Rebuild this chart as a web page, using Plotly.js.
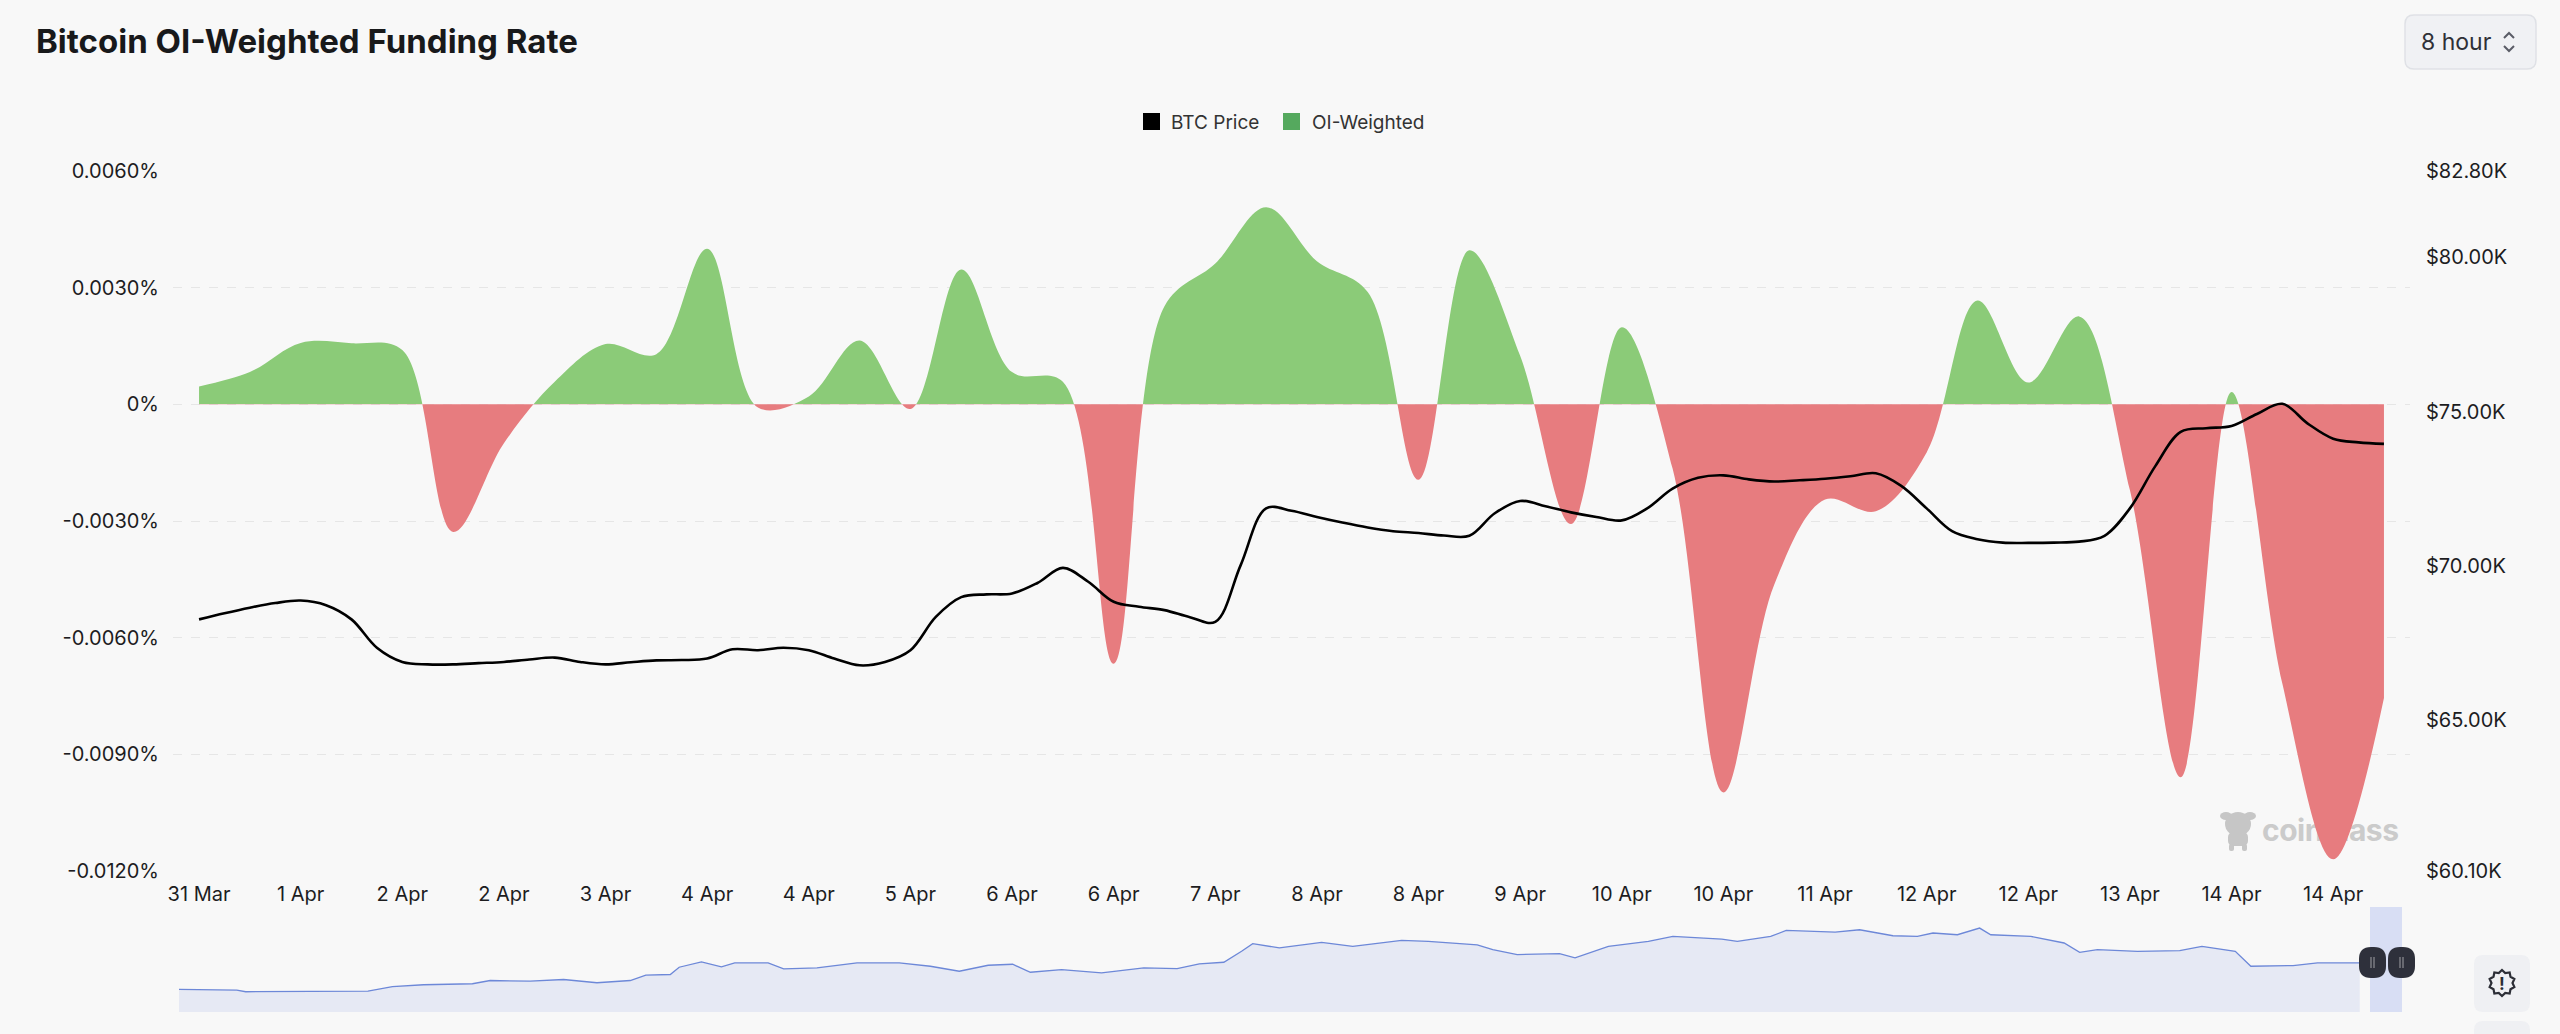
<!DOCTYPE html>
<html>
<head>
<meta charset="utf-8">
<script src="https://cdn.plot.ly/plotly-3.0.1.min.js"></script>
<style>
  html, body { margin: 0; padding: 0; background: #f8f8f8; }
  #chart { width: 2560px; height: 1034px; }
</style>
</head>
<body>
<div id="chart"></div>
<script>
// 8-hour funding settlements
var fundingTimes = [
  '2025-03-31 16:00',
  '2025-04-01 00:00', '2025-04-01 08:00', '2025-04-01 16:00',
  '2025-04-02 00:00', '2025-04-02 08:00', '2025-04-02 16:00',
  '2025-04-03 00:00', '2025-04-03 08:00', '2025-04-03 16:00',
  '2025-04-04 00:00', '2025-04-04 08:00', '2025-04-04 16:00',
  '2025-04-05 00:00', '2025-04-05 08:00', '2025-04-05 16:00',
  '2025-04-06 00:00', '2025-04-06 08:00', '2025-04-06 16:00',
  '2025-04-07 00:00', '2025-04-07 08:00', '2025-04-07 16:00',
  '2025-04-08 00:00', '2025-04-08 08:00', '2025-04-08 16:00',
  '2025-04-09 00:00', '2025-04-09 08:00', '2025-04-09 16:00',
  '2025-04-10 00:00', '2025-04-10 08:00', '2025-04-10 16:00',
  '2025-04-11 00:00', '2025-04-11 08:00', '2025-04-11 16:00',
  '2025-04-12 00:00', '2025-04-12 08:00', '2025-04-12 16:00',
  '2025-04-13 00:00', '2025-04-13 08:00', '2025-04-13 16:00',
  '2025-04-14 00:00', '2025-04-14 08:00', '2025-04-14 16:00',
  '2025-04-15 00:00'
];
// OI-weighted funding rate, in %
var fundingRate = [
  0.00046, 0.00083, 0.00158, 0.00157, 0.00140, -0.00328, -0.00100, 0.00058,
  0.00155, 0.00129, 0.00400, -0.00008, 0.00020, 0.00164, -0.00012, 0.00347,
  0.00083, 0.00058, -0.00667, 0.00252, 0.00362, 0.00507, 0.00368, 0.00289,
  -0.00194, 0.00396, 0.00125, -0.00308, 0.00198, -0.00165, -0.00998, -0.00464,
  -0.00245, -0.00275, -0.00124, 0.00267, 0.00056, 0.00226, -0.00220, -0.00959,
  0.00032, -0.00718, -0.01170, -0.00755
];

// BTC price every 4 hours, in $K
var priceTimes = [
  '2025-03-31 16:00', '2025-03-31 20:00',
  '2025-04-01 00:00', '2025-04-01 04:00', '2025-04-01 08:00', '2025-04-01 12:00', '2025-04-01 16:00', '2025-04-01 20:00',
  '2025-04-02 00:00', '2025-04-02 04:00', '2025-04-02 08:00', '2025-04-02 12:00', '2025-04-02 16:00', '2025-04-02 20:00',
  '2025-04-03 00:00', '2025-04-03 04:00', '2025-04-03 08:00', '2025-04-03 12:00', '2025-04-03 16:00', '2025-04-03 20:00',
  '2025-04-04 00:00', '2025-04-04 04:00', '2025-04-04 08:00', '2025-04-04 12:00', '2025-04-04 16:00', '2025-04-04 20:00',
  '2025-04-05 00:00', '2025-04-05 04:00', '2025-04-05 08:00', '2025-04-05 12:00', '2025-04-05 16:00', '2025-04-05 20:00',
  '2025-04-06 00:00', '2025-04-06 04:00', '2025-04-06 08:00', '2025-04-06 12:00', '2025-04-06 16:00', '2025-04-06 20:00',
  '2025-04-07 00:00', '2025-04-07 04:00', '2025-04-07 08:00', '2025-04-07 12:00', '2025-04-07 16:00', '2025-04-07 20:00',
  '2025-04-08 00:00', '2025-04-08 04:00', '2025-04-08 08:00', '2025-04-08 12:00', '2025-04-08 16:00', '2025-04-08 20:00',
  '2025-04-09 00:00', '2025-04-09 04:00', '2025-04-09 08:00', '2025-04-09 12:00', '2025-04-09 16:00', '2025-04-09 20:00',
  '2025-04-10 00:00', '2025-04-10 04:00', '2025-04-10 08:00', '2025-04-10 12:00', '2025-04-10 16:00', '2025-04-10 20:00',
  '2025-04-11 00:00', '2025-04-11 04:00', '2025-04-11 08:00', '2025-04-11 12:00', '2025-04-11 16:00', '2025-04-11 20:00',
  '2025-04-12 00:00', '2025-04-12 04:00', '2025-04-12 08:00', '2025-04-12 12:00', '2025-04-12 16:00', '2025-04-12 20:00',
  '2025-04-13 00:00', '2025-04-13 04:00', '2025-04-13 08:00', '2025-04-13 12:00', '2025-04-13 16:00', '2025-04-13 20:00',
  '2025-04-14 00:00', '2025-04-14 04:00', '2025-04-14 08:00', '2025-04-14 12:00', '2025-04-14 16:00', '2025-04-14 20:00',
  '2025-04-15 00:00'
];
var btcPrice = [
  68.26, 68.46,
  68.64, 68.79, 68.87, 68.72, 68.26, 67.34,
  66.88, 66.80, 66.80, 66.84, 66.88, 66.96,
  67.02, 66.88, 66.80, 66.87, 66.93, 66.94,
  66.99, 67.29, 67.26, 67.34, 67.26, 66.99,
  66.77, 66.88, 67.26, 68.34, 68.98, 69.07,
  69.10, 69.44, 69.93, 69.48, 68.83, 68.67,
  68.56, 68.33, 68.18, 70.02, 71.86, 71.78,
  71.58, 71.40, 71.24, 71.12, 71.06, 70.98,
  70.97, 71.70, 72.10, 71.93, 71.73, 71.58,
  71.47, 71.86, 72.50, 72.85, 72.93, 72.80,
  72.73, 72.77, 72.82, 72.90, 73.00, 72.59,
  71.86, 71.12, 70.86, 70.75, 70.74, 70.75,
  70.78, 70.97, 71.86, 73.23, 74.34, 74.46,
  74.53, 74.92, 75.25, 74.61, 74.12, 74.00,
  73.95
];

var xTickVals = [
  '2025-03-31 16:00', '2025-04-01 08:00', '2025-04-02 00:00', '2025-04-02 16:00',
  '2025-04-03 08:00', '2025-04-04 00:00', '2025-04-04 16:00', '2025-04-05 08:00',
  '2025-04-06 00:00', '2025-04-06 16:00', '2025-04-07 08:00', '2025-04-08 00:00',
  '2025-04-08 16:00', '2025-04-09 08:00', '2025-04-10 00:00', '2025-04-10 16:00',
  '2025-04-11 08:00', '2025-04-12 00:00', '2025-04-12 16:00', '2025-04-13 08:00',
  '2025-04-14 00:00', '2025-04-14 16:00'
];
var xTickText = [
  '31 Mar', '1 Apr', '2 Apr', '2 Apr', '3 Apr', '4 Apr', '4 Apr', '5 Apr',
  '6 Apr', '6 Apr', '7 Apr', '8 Apr', '8 Apr', '9 Apr', '10 Apr', '10 Apr',
  '11 Apr', '12 Apr', '12 Apr', '13 Apr', '14 Apr', '14 Apr'
];
var rateTicks = [-0.012, -0.009, -0.006, -0.003, 0, 0.003, 0.006];
var rateTickText = ['-0.0120%', '-0.0090%', '-0.0060%', '-0.0030%', '0%', '0.0030%', '0.0060%'];
var priceTicks = [60.1, 65, 70, 75, 80, 82.8];
var priceTickText = ['$60.10K', '$65.00K', '$70.00K', '$75.00K', '$80.00K', '$82.80K'];

// long history price in the navigator strip (day offset, $K)
var sliderDay = [
  0, 26, 30, 67, 85, 96, 110, 132, 140, 158, 173, 188, 203, 210, 221, 225, 235, 244, 250, 265,
  272, 287, 305, 324, 338, 351, 364, 375, 383, 397, 415, 434, 449, 459, 470, 478, 483, 495, 514, 528,
  550, 562, 584, 591, 602, 621, 628, 643, 661, 672, 694, 701, 716, 723, 745, 756, 771, 782, 789, 800,
  810, 815, 833, 848, 855, 863, 881, 900, 910, 925, 932, 951, 962, 973, 981
];
var sliderPrice = [
  34.2, 33.1, 30.7, 31.2, 31.6, 38.3, 41.3, 42.8, 47.7, 46.7, 49.2, 44.3, 47.7, 55.7, 56.8, 67.8, 75.9, 68.4, 74.4, 74.4,
  65.4, 66.9, 74.4, 74.4, 69.3, 61.7, 70.8, 72.3, 60.2, 64.3, 59.3, 66.9, 65.8, 72.9, 75.3, 91.9, 103.5, 97.0, 105.4, 99.4,
  108.4, 106.9, 101.5, 94.4, 86.9, 88.4, 81.9, 99.4, 106.9, 114.5, 110.5, 106.9, 114.5, 123.5, 121.1, 124.5, 115.5, 114.5, 119.6, 117.0,
  127.1, 117.0, 114.5, 104.5, 90.4, 94.4, 91.9, 92.9, 99.4, 91.9, 69.3, 70.3, 74.4, 74.4, 74.4
];

var RED = '#e77c7f';
var GREEN = '#8bcb78';
var FONT = 'Inter, "Noto Sans", sans-serif';

// page geometry (pixels) -> paper coordinates, for the decorations
var W = 2560, H = 1034, ML = 173, MR = 150, MT = 171, MB = 22;
var PW = W - ML - MR, PH = H - MT - MB;
function px(x) { return (x - ML) / PW; }
function py(y) { return (H - MB - y) / PH; }
function roundRect(x0, y0, x1, y1, r) {
  return 'M' + px(x0 + r) + ',' + py(y0) + 'L' + px(x1 - r) + ',' + py(y0) +
    'Q' + px(x1) + ',' + py(y0) + ' ' + px(x1) + ',' + py(y0 + r) +
    'L' + px(x1) + ',' + py(y1 - r) +
    'Q' + px(x1) + ',' + py(y1) + ' ' + px(x1 - r) + ',' + py(y1) +
    'L' + px(x0 + r) + ',' + py(y1) +
    'Q' + px(x0) + ',' + py(y1) + ' ' + px(x0) + ',' + py(y1 - r) +
    'L' + px(x0) + ',' + py(y0 + r) +
    'Q' + px(x0) + ',' + py(y0) + ' ' + px(x0 + r) + ',' + py(y0) + 'Z';
}
function polyline(pts) {
  return pts.map(function (p, k) { return (k ? 'L' : 'M') + px(p[0]) + ',' + py(p[1]); }).join('');
}
function badge(cx, cy, ro, ri, n) {
  var pts = [];
  for (var k = 0; k < n * 2; k++) {
    var a = Math.PI * k / n - Math.PI / 2;
    var r = k % 2 ? ri : ro;
    pts.push([cx + r * Math.cos(a), cy + r * Math.sin(a)]);
  }
  return polyline(pts) + 'Z';
}

var zeroFrac = (0 - rateTicks[0]) / (rateTicks[rateTicks.length - 1] - rateTicks[0]);

var fundingTrace = {
  x: fundingTimes, y: fundingRate,
  type: 'scatter', mode: 'lines',
  line: {shape: 'spline', smoothing: 1, width: 0, color: GREEN},
  fill: 'tozeroy',
  fillgradient: {
    type: 'vertical',
    start: rateTicks[0], stop: rateTicks[rateTicks.length - 1],
    colorscale: [[0, RED], [zeroFrac, RED], [zeroFrac, GREEN], [1, GREEN]]
  },
  xaxis: 'x', yaxis: 'y',
  hoverinfo: 'skip', showlegend: false
};

var priceTrace = {
  x: priceTimes, y: btcPrice,
  type: 'scatter', mode: 'lines',
  line: {shape: 'spline', smoothing: 1, width: 2.6, color: '#000000'},
  xaxis: 'x', yaxis: 'y2',
  hoverinfo: 'skip', showlegend: false
};

var sliderTrace = {
  x: sliderDay, y: sliderPrice,
  type: 'scatter', mode: 'lines',
  line: {width: 1.3, color: '#6d88d8'},
  fill: 'tozeroy', fillcolor: '#e6e9f4',
  xaxis: 'x2', yaxis: 'y3',
  hoverinfo: 'skip', showlegend: false
};

var wmSvg = "<svg xmlns='http://www.w3.org/2000/svg' width='182' height='46' viewBox='0 0 182 46'>" +
  "<g fill='#c6c6c6'>" +
  "<ellipse cx='8' cy='10' rx='6' ry='4'/><ellipse cx='32' cy='10' rx='6' ry='4'/>" +
  "<ellipse cx='20' cy='18' rx='13' ry='12'/>" +
  "<rect x='10' y='26' width='20' height='14' rx='5'/>" +
  "<rect x='11' y='38' width='5' height='7' rx='2'/><rect x='24' y='38' width='5' height='7' rx='2'/>" +
  "</g>" +
  "<text x='44' y='35' font-family='Inter, Roboto, sans-serif' font-weight='700' font-size='30' letter-spacing='-0.5' fill='#cbcbcb'>coinglass</text>" +
  "</svg>";

var shapes = [
  // period selector button
  {type: 'path', xref: 'paper', yref: 'paper', path: roundRect(2405, 15, 2536, 69, 9),
    fillcolor: '#f0f1f4', line: {color: '#dfe1e6', width: 1.5}},
  {type: 'path', xref: 'paper', yref: 'paper', path: polyline([[2504, 38], [2509, 33], [2514, 38]]),
    line: {color: '#5a5c66', width: 2}},
  {type: 'path', xref: 'paper', yref: 'paper', path: polyline([[2504, 46], [2509, 51], [2514, 46]]),
    line: {color: '#5a5c66', width: 2}},
  // legend swatches
  {type: 'rect', xref: 'paper', yref: 'paper', x0: px(1143), x1: px(1160), y0: py(113), y1: py(130),
    fillcolor: '#000000', line: {width: 0}},
  {type: 'rect', xref: 'paper', yref: 'paper', x0: px(1283), x1: px(1300), y0: py(113), y1: py(130),
    fillcolor: '#55a95e', line: {width: 0}},
  // navigator selection and handles
  {type: 'rect', xref: 'paper', yref: 'paper', x0: px(2370), x1: px(2402), y0: py(1012), y1: py(907),
    fillcolor: 'rgba(190,200,240,0.55)', line: {width: 0}},
  {type: 'path', xref: 'paper', yref: 'paper', path: roundRect(2359, 947, 2386, 978, 12),
    fillcolor: '#2e303b', line: {width: 0}},
  {type: 'path', xref: 'paper', yref: 'paper', path: roundRect(2388, 947, 2415, 978, 12),
    fillcolor: '#2e303b', line: {width: 0}},
  {type: 'path', xref: 'paper', yref: 'paper', path: polyline([[2371, 957], [2371, 968]]) + polyline([[2374, 957], [2374, 968]]),
    line: {color: 'rgba(255,255,255,0.55)', width: 1}},
  {type: 'path', xref: 'paper', yref: 'paper', path: polyline([[2400, 957], [2400, 968]]) + polyline([[2403, 957], [2403, 968]]),
    line: {color: 'rgba(255,255,255,0.55)', width: 1}},
  // side tool buttons
  {type: 'path', xref: 'paper', yref: 'paper', path: roundRect(2474, 955, 2530, 1012, 9),
    fillcolor: '#eff0f3', line: {width: 0}},
  {type: 'path', xref: 'paper', yref: 'paper', path: roundRect(2474, 1021, 2530, 1070, 9),
    fillcolor: '#eff0f3', line: {width: 0}},
  {type: 'path', xref: 'paper', yref: 'paper', path: badge(2502, 983, 13, 10.5, 10),
    line: {color: '#2c2e36', width: 2.2}}
];

var annotations = [
  {text: 'BTC Price', xref: 'paper', yref: 'paper', x: px(1169), y: py(122), xanchor: 'left', yanchor: 'middle',
    showarrow: false, font: {family: FONT, size: 19, color: '#333333'}},
  {text: 'OI-Weighted', xref: 'paper', yref: 'paper', x: px(1310), y: py(122), xanchor: 'left', yanchor: 'middle',
    showarrow: false, font: {family: FONT, size: 19, color: '#333333'}},
  {text: '8 hour', xref: 'paper', yref: 'paper', x: px(2419), y: py(42), xanchor: 'left', yanchor: 'middle',
    showarrow: false, font: {family: FONT, size: 23, color: '#2f3037'}},
  {text: '!', xref: 'paper', yref: 'paper', x: px(2502), y: py(984), xanchor: 'center', yanchor: 'middle',
    showarrow: false, font: {family: FONT, size: 17, color: '#2c2e36', weight: 700}}
];

var layout = {
  width: W, height: H,
  paper_bgcolor: '#f8f8f8',
  plot_bgcolor: 'rgba(0,0,0,0)',
  margin: {l: ML, r: MR, t: MT, b: MB, pad: 0},
  font: {family: FONT, color: '#1d1d1f'},
  title: {
    text: 'Bitcoin OI-Weighted Funding Rate',
    xref: 'container', yref: 'container',
    x: 36 / W, xanchor: 'left', y: 1 - 41 / H, yanchor: 'middle',
    font: {family: FONT, size: 33, weight: 700, color: '#18191b'}
  },
  showlegend: false,
  xaxis: {
    type: 'date', domain: [0, 1], anchor: 'y',
    range: ['2025-03-31 11:54', '2025-04-15 04:06'],
    tickvals: xTickVals, ticktext: xTickText,
    showgrid: false, zeroline: false, showline: false, ticks: '',
    ticklabelstandoff: 9,
    tickfont: {family: FONT, size: 20, color: '#1d1d1f'}
  },
  yaxis: {
    domain: [py(871), 1],
    range: [rateTicks[0], rateTicks[rateTicks.length - 1]],
    tickvals: rateTicks, ticktext: rateTickText,
    showgrid: true, gridcolor: '#e6e6e6', gridwidth: 1, griddash: 'dash',
    zeroline: false, showline: false, ticks: '',
    ticklabelstandoff: 13,
    tickfont: {family: FONT, size: 20, color: '#1d1d1f'}
  },
  yaxis2: {
    overlaying: 'y', side: 'right', anchor: 'x',
    range: [priceTicks[0], priceTicks[priceTicks.length - 1]],
    tickvals: priceTicks, ticktext: priceTickText,
    showgrid: false, zeroline: false, showline: false, ticks: '',
    ticklabelstandoff: 15,
    tickfont: {family: FONT, size: 20, color: '#1d1d1f'}
  },
  xaxis2: {
    domain: [px(179), px(2402)], anchor: 'y3',
    range: [0, 1000], visible: false, fixedrange: true
  },
  yaxis3: {
    domain: [0, py(907)], anchor: 'x2',
    range: [0, 159], visible: false, fixedrange: true
  },
  shapes: shapes,
  annotations: annotations,
  images: [{
    source: 'data:image/svg+xml;charset=utf-8,' + encodeURIComponent(wmSvg),
    xref: 'paper', yref: 'paper',
    x: px(2218), y: py(806), sizex: 182 / PW, sizey: 46 / PH,
    xanchor: 'left', yanchor: 'top', sizing: 'stretch', layer: 'below'
  }]
};

Plotly.newPlot('chart', [fundingTrace, priceTrace, sliderTrace], layout, {displayModeBar: false, staticPlot: true});
</script>
</body>
</html>
